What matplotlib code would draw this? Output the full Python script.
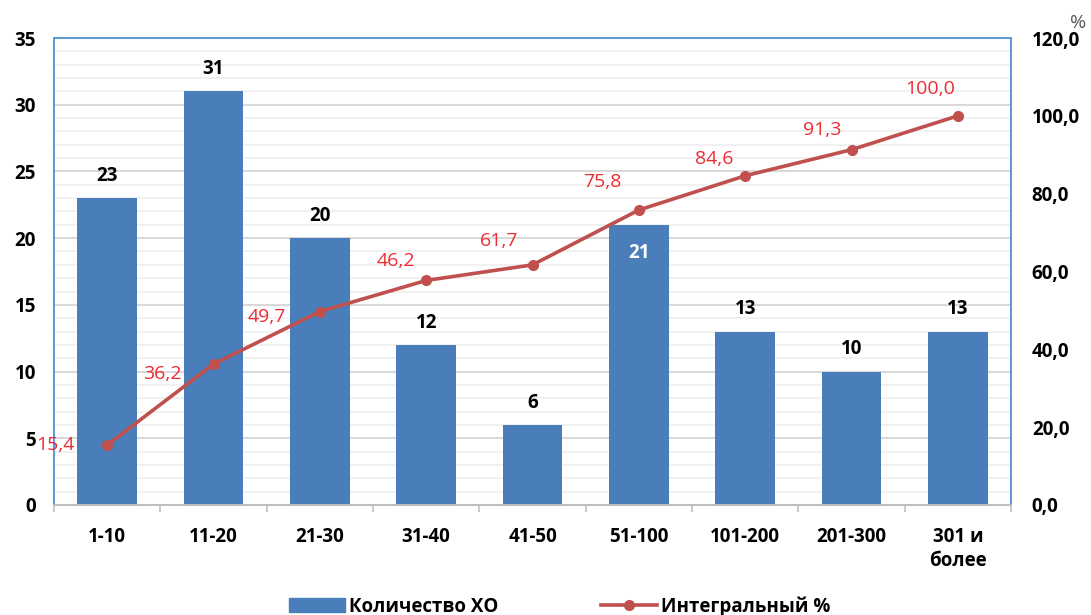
import matplotlib.pyplot as plt
from matplotlib.lines import Line2D
from matplotlib.patches import Patch

categories = ['1-10', '11-20', '21-30', '31-40', '41-50', '51-100', '101-200', '201-300', '301 и\nболее']
counts = [23, 31, 20, 12, 6, 21, 13, 10, 13]
cumulative = [15.4, 36.2, 49.7, 57.7, 61.7, 75.8, 84.6, 91.3, 100.0]
# labels as printed on the original chart (the 4th one differs from the plotted point)
cum_labels = ['15,4', '36,2', '49,7', '46,2', '61,7', '75,8', '84,6', '91,3', '100,0']
left_ticks = [0, 5, 10, 15, 20, 25, 30, 35]
right_ticks = [0, 20, 40, 60, 80, 100, 120]

# label offsets (points) for the percent labels, mirroring the reference placement
label_offsets = [(-37, 0), (-37, -7), (-38, -4), (-22, 14), (-24, 17), (-26, 20), (-22, 12), (-21, 14), (-20, 19)]
inside_labels = {5}

BAR = '#4A7EBB'
LINE = '#C0504D'
RED = '#EC2B34'
FRAME = '#5B9BD5'

plt.rcParams['font.family'] = ['Open Sans', 'DejaVu Sans']

fig = plt.figure(figsize=(10.91, 6.15), dpi=100)
ax = fig.add_axes([0.0495, 0.1789, 0.8772, 0.7593])
ax2 = ax.twinx()

x = list(range(len(categories)))
ax.bar(x, counts, width=0.56, color=BAR, zorder=2)

for i, v in enumerate(counts):
    if i in inside_labels:
        ax.annotate(str(v), (i, v), xytext=(0, -20), textcoords='offset points',
                    ha='center', va='center', fontsize=13.5, fontweight='bold', color='white', zorder=3)
    else:
        ax.annotate(str(v), (i, v), xytext=(0, 16), textcoords='offset points',
                    ha='center', va='center', fontsize=13.5, fontweight='bold', color='black', zorder=3)

ax.set_xlim(-0.5, len(categories) - 0.5)
ax.set_ylim(0, 35)
ax.set_yticks(left_ticks)
ax.set_yticks(range(0, 36), minor=True)
ax.grid(axis='y', which='major', color='#D9D9D9', linewidth=1.5, zorder=0)
ax.grid(axis='y', which='minor', color='#F0F0F0', linewidth=1.3, zorder=0)
ax.set_axisbelow(True)

ax.set_xticks(x)
ax.set_xticklabels(categories, fontsize=13.5, fontweight='bold', linespacing=1.25)
ax.set_xticks([i - 0.5 for i in range(len(categories) + 1)], minor=True)
ax.tick_params(axis='x', which='major', length=0, pad=16)
ax.tick_params(axis='x', which='minor', length=5, color='#BFBFBF', width=1.2)
ax.tick_params(axis='y', which='both', length=0, pad=13, labelsize=13.5)
for lbl in ax.get_yticklabels():
    lbl.set_fontweight('bold')

ax2.plot(x, cumulative, color=LINE, linewidth=2.6, marker='o', markersize=7, zorder=4)
for i, (v, s) in enumerate(zip(cumulative, cum_labels)):
    ax2.annotate(s, (i, v), xytext=label_offsets[i], textcoords='offset points',
                 ha='center', va='center', fontsize=14, color=RED)
ax2.set_ylim(0, 120)
ax2.set_yticks(right_ticks)
ax2.set_yticklabels([f'{t:.1f}'.replace('.', ',') for t in right_ticks], fontweight='bold')
ax2.tick_params(axis='y', length=0, pad=15, labelsize=13.5)

for a in (ax, ax2):
    for side in ('left', 'right', 'top'):
        a.spines[side].set_color(FRAME)
        a.spines[side].set_linewidth(1.3)
    a.spines['bottom'].set_color('#BFBFBF')
    a.spines['bottom'].set_linewidth(1.3)

fig.text(0.988, 0.962, '%', fontsize=14, color='#595959', ha='center', va='center')

handles = [Patch(facecolor=BAR, edgecolor=BAR),
           Line2D([0], [0], color=LINE, linewidth=2.6, marker='o', markersize=7)]
fig.legend(handles, ['Количество ХО', 'Интегральный %'], loc='lower center',
           bbox_to_anchor=(0.513, -0.03), ncol=2, frameon=False, columnspacing=5.5,
           handlelength=3, handletextpad=0.2, prop={'weight': 'bold', 'size': 13.5})

fig.savefig('out.png', dpi=100)
